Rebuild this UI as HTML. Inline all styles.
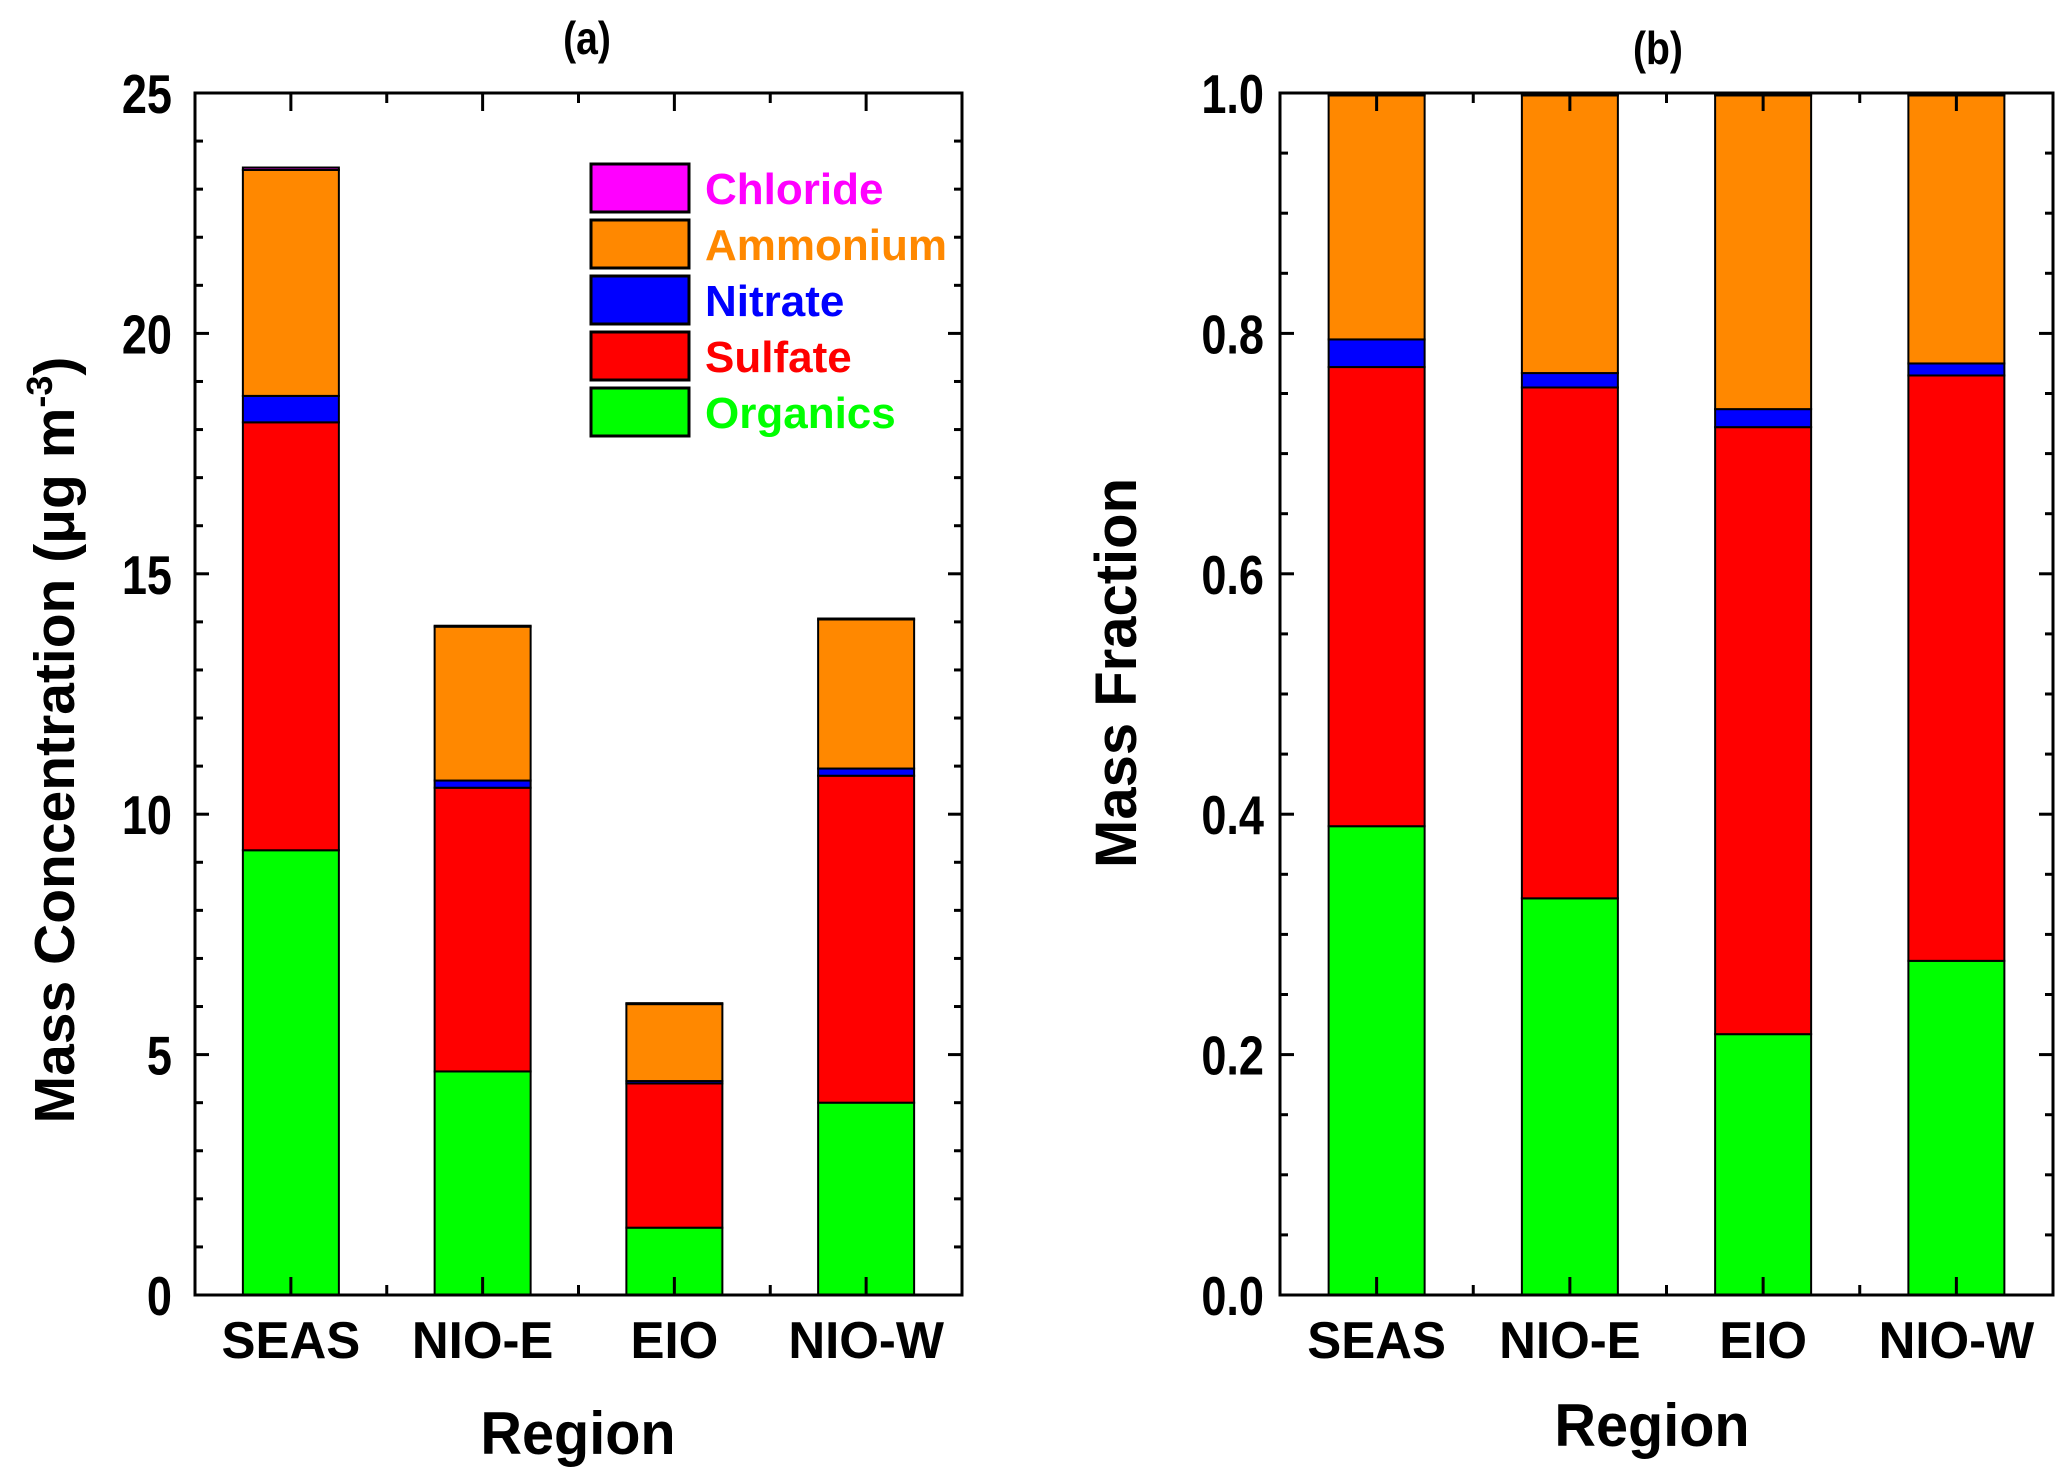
<!DOCTYPE html>
<html><head><meta charset="utf-8"><style>
html,body{margin:0;padding:0;background:#fff;}
svg{display:block;font-family:"Liberation Sans",Arial,sans-serif;font-weight:bold;}
</style></head><body>
<svg id="chart" width="2067" height="1483" viewBox="0 0 2067 1483" xmlns="http://www.w3.org/2000/svg"></svg>
<script>
const categories = ["SEAS","NIO-E","EIO","NIO-W"];
const species = ["Organics","Sulfate","Nitrate","Ammonium","Chloride"];
const colors = ["#00ff00","#ff0000","#0000ff","#ff8800","#ff00ff"];
const concOrganics = [9.25,4.65,1.4,4.0];
const concSulfate = [8.9,5.9,3.0,6.8];
const concNitrate = [0.55,0.15,0.05,0.15];
const concAmmonium = [4.7,3.2,1.6,3.1];
const concChloride = [0.05,0.02,0.02,0.02];
const fracOrganics = [0.39,0.33,0.217,0.278];
const fracSulfate = [0.382,0.425,0.505,0.487];
const fracNitrate = [0.023,0.012,0.015,0.01];
const fracAmmonium = [0.203,0.231,0.261,0.223];
const fracChloride = [0.002,0.002,0.002,0.002];
const ticksA = [0,5,10,15,20,25];
const ticksB = ["0.0","0.2","0.4","0.6","0.8","1.0"];

const svg = document.getElementById('chart');
const NS = "http://www.w3.org/2000/svg";
function mk(tag, attrs, parent){const e=document.createElementNS(NS,tag);for(const k in attrs)e.setAttribute(k,attrs[k]);(parent||svg).appendChild(e);return e;}
function txt(x,y,size,anchor,sx,parent,extra){
  const a = {x:0,y:0,'font-size':size,'text-anchor':anchor,transform:`translate(${x},${y}) scale(${sx},1)`};
  if(extra) for(const k in extra) a[k]=extra[k];
  return mk('text',a,parent);
}

function panel(cfg){
  const {x0,x1,y0,y1,ymax,minorStep,majorVals,majorLabels,series,title,ytitle,prefix,ytx,yty,ytSize,titleX,titleY,regX,regY,labRight} = cfg;
  const g = mk('g',{});
  
  
  const sx = c => x0 + (c+0.5)*(x1-x0)/categories.length;
  const sy = v => y1 - v/ymax*(y1-y0);
  const bw = 96;
  categories.forEach((cat,i)=>{
    let acc=0;
    series.forEach((arr,s)=>{
      const v=arr[i];
      const r = mk('rect',{x:sx(i)-bw/2,y:sy(acc+v),width:bw,height:Math.max(0,sy(acc)-sy(acc+v)),fill:colors[s],stroke:'#000','stroke-width':2},g);
      
      
      acc+=v;
    });
    const t = txt(sx(i),1358,52,'middle',0.98,g);
    t.textContent=cat;
    
    
  });
  const fr = mk('rect',{x:x0,y:y0,width:x1-x0,height:y1-y0,fill:'none',stroke:'#000','stroke-width':3},g);
  
  
  for(let v=0; v<=ymax+1e-9; v+=minorStep){
    const isMajor = majorVals.some(m=>Math.abs(m-v)<1e-6);
    const L = isMajor?14:8;
    mk('line',{x1:x0,x2:x0+L,y1:sy(v),y2:sy(v),stroke:'#000','stroke-width':3},g);
    mk('line',{x1:x1,x2:x1-L,y1:sy(v),y2:sy(v),stroke:'#000','stroke-width':3},g);
  }
  majorVals.forEach((v,k)=>{
    const t = txt(labRight,sy(v)+20,55,'end',0.82,g);
    t.textContent=majorLabels[k];
    
    
  });
  for(let k=0;k<=categories.length*2;k++){
    const xx = x0 + k*(x1-x0)/(categories.length*2);
    const L = (k%2===1)?18:10;
    mk('line',{x1:xx,x2:xx,y1:y1,y2:y1-L,stroke:'#000','stroke-width':3},g);
    mk('line',{x1:xx,x2:xx,y1:y0,y2:y0+L,stroke:'#000','stroke-width':3},g);
  }
  const ti = txt(titleX,titleY,46,'middle',0.85,g);
  ti.textContent=title;
  
  
  const rg = txt(regX,regY,60,'middle',0.96,g);
  rg.textContent='Region';
  
  
  const yt = mk('text',{x:0,y:0,'font-size':ytSize,'text-anchor':'middle',transform:`translate(${ytx},${yty}) rotate(-90)`},g);
  yt.innerHTML=ytitle;
  
  
}

panel({x0:195,x1:962,y0:93,y1:1295,ymax:25,minorStep:1,majorVals:ticksA,majorLabels:ticksA.map(String),
  series:[concOrganics,concSulfate,concNitrate,concAmmonium,concChloride],title:'(a)',
  ytitle:'Mass Concentration (μg m<tspan dy="-22" font-size="36">-3</tspan><tspan dy="22">)</tspan>',prefix:'conc',
  ytx:74,yty:740,ytSize:57,titleX:587,titleY:54,regX:578,regY:1454,labRight:172});
panel({x0:1280,x1:2053,y0:93,y1:1295,ymax:1,minorStep:0.05,majorVals:[0,0.2,0.4,0.6,0.8,1.0],majorLabels:ticksB,
  series:[fracOrganics,fracSulfate,fracNitrate,fracAmmonium,fracChloride],title:'(b)',
  ytitle:'Mass Fraction',prefix:'frac',ytx:1136,yty:673,ytSize:58,titleX:1658,titleY:64,regX:1652,regY:1446,labRight:1264});

const leg = mk('g',{});


const order=[4,3,2,1,0];
order.forEach((s,k)=>{
  const y = 164 + k*56;
  const r = mk('rect',{x:591,y:y,width:98,height:48,fill:colors[s],stroke:'#000','stroke-width':3},leg);
  
  
  const t = txt(705,y+40,44,'start',1,leg,{fill:colors[s]});
  t.textContent=species[s];
  
  
});
</script>
</body></html>
